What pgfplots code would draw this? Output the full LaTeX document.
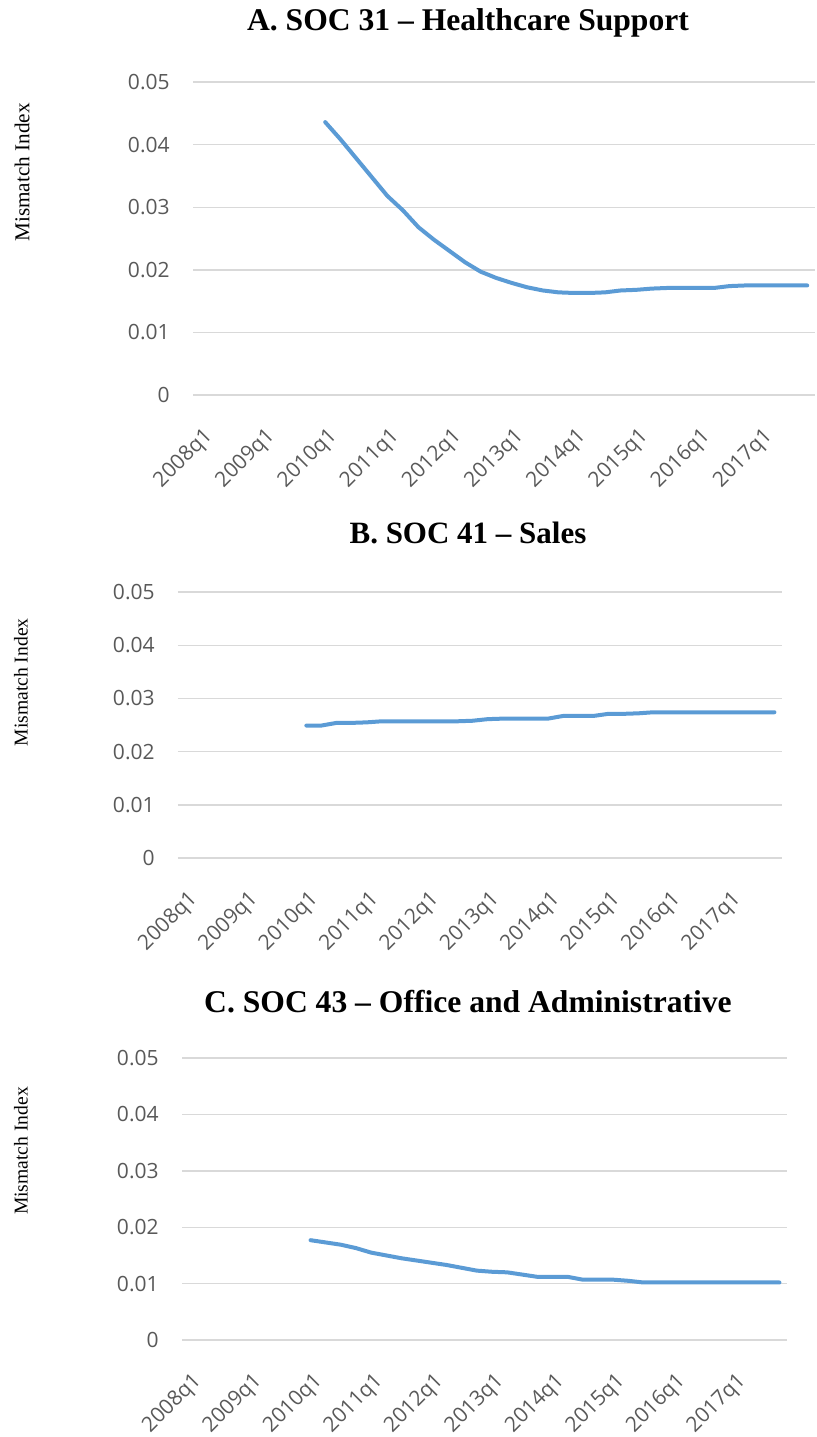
\documentclass[border=0pt]{standalone}
\usepackage{fontspec}
\setmainfont{Liberation Serif}
\newfontfamily\tickfont{Open Sans}
\usepackage{pgfplots}
\pgfplotsset{compat=1.18}
\usepackage{pgfplotstable}

\definecolor{xlblue}{HTML}{5B9BD5}
\definecolor{xlgrid}{HTML}{D9D9D9}
\definecolor{xltext}{HTML}{595959}

% quarter index: 0 = 2008q1, 39 = 2017q4
\pgfplotstableread{
q v
8  0.0436
9  0.0408
10 0.0378
11 0.0348
12 0.0318
13 0.0295
14 0.0268
15 0.0248
16 0.0230
17 0.0212
18 0.0197
19 0.0187
20 0.0179
21 0.0172
22 0.0167
23 0.0164
24 0.0163
25 0.0163
26 0.0164
27 0.0167
28 0.0168
29 0.0170
30 0.0171
31 0.0171
32 0.0171
33 0.0171
34 0.0174
35 0.0175
36 0.0175
37 0.0175
38 0.0175
39 0.0175
}\socA

\pgfplotstableread{
q v
8  0.0249
9  0.0249
10 0.0254
11 0.0254
12 0.0255
13 0.0257
14 0.0257
15 0.0257
16 0.0257
17 0.0257
18 0.0257
19 0.0258
20 0.0261
21 0.0262
22 0.0262
23 0.0262
24 0.0262
25 0.0267
26 0.0267
27 0.0267
28 0.0271
29 0.0271
30 0.0272
31 0.0274
32 0.0274
33 0.0274
34 0.0274
35 0.0274
36 0.0274
37 0.0274
38 0.0274
39 0.0274
}\socB

\pgfplotstableread{
q v
8  0.0177
9  0.0173
10 0.0169
11 0.0163
12 0.0155
13 0.0150
14 0.0145
15 0.0141
16 0.0137
17 0.0133
18 0.0128
19 0.0123
20 0.0121
21 0.0120
22 0.0116
23 0.0112
24 0.0112
25 0.0112
26 0.0107
27 0.0107
28 0.0107
29 0.0105
30 0.0102
31 0.0102
32 0.0102
33 0.0102
34 0.0102
35 0.0102
36 0.0102
37 0.0102
38 0.0102
39 0.0102
}\socC

\pgfplotsset{
  panel/.style={
    scale only axis,
    anchor=south west,
    xmin=-0.5, xmax=39.5,
    ymin=0, ymax=0.05,
    xtick={0,4,...,36},
    xticklabels={2008q1,2009q1,2010q1,2011q1,2012q1,2013q1,2014q1,2015q1,2016q1,2017q1},
    ytick={0,0.01,0.02,0.03,0.04,0.05},
    yticklabels={0,0.01,0.02,0.03,0.04,0.05},
    scaled y ticks=false,
    ymajorgrids,
    grid style={xlgrid, line width=0.7pt},
    axis line style={draw=none},
    major tick length=0pt,
    /pgf/number format/assume math mode=true,
    tick label style={font=\tickfont\fontsize{10.5pt}{12pt}\selectfont, text=xltext},
    yticklabel style={inner sep=0pt, xshift=-11.5pt},
    xticklabel style={inner sep=0pt, xshift=4.5pt, yshift=-19pt, rotate=45, anchor=east},
    clip=false,
  },
  series/.style={xlblue, line width=2pt, line join=round, line cap=round, mark=none},
}

\begin{document}
\begin{tikzpicture}
\useasboundingbox (0,0) rectangle (408.5pt,-718.5pt);

% A
\begin{axis}[panel, at={(96.5pt,-197.5pt)}, width=311pt, height=156.5pt]
\addplot[series] table[x=q, y=v] {\socA};
\end{axis}
\node[anchor=base, font=\bfseries\fontsize{15.8pt}{18pt}\selectfont] at (234pt,-15pt) {A. SOC 31 -- Healthcare Support};
\node[rotate=90, font=\fontsize{10.6pt}{12pt}\selectfont] at (11pt,-86.2pt) {Mismatch Index};

% B
\begin{axis}[panel, at={(89pt,-429pt)}, width=302pt, height=133pt]
\addplot[series] table[x=q, y=v] {\socB};
\end{axis}
\node[anchor=base, font=\bfseries\fontsize{15.5pt}{18pt}\selectfont] at (234pt,-271.5pt) {B. SOC 41 -- Sales};
\node[rotate=90, font=\fontsize{9.8pt}{12pt}\selectfont] at (10.5pt,-341.2pt) {Mismatch Index};

% C
\begin{axis}[panel, at={(91pt,-670pt)}, width=302.5pt, height=141pt]
\addplot[series] table[x=q, y=v] {\socC};
\end{axis}
\node[anchor=base, font=\bfseries\fontsize{15.8pt}{18pt}\selectfont] at (234pt,-506pt) {C. SOC 43 -- Office and Administrative};
\node[rotate=90, font=\fontsize{9.8pt}{12pt}\selectfont] at (10.5pt,-575.5pt) {Mismatch Index};
\end{tikzpicture}
\end{document}
